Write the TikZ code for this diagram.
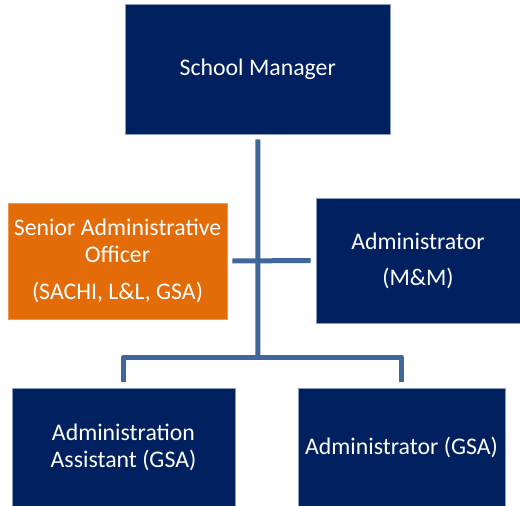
\documentclass[tikz,border=0pt]{standalone}
\usepackage{fontspec}
\setmainfont{Carlito}
\usepackage{tikz}
\usetikzlibrary{positioning}
\definecolor{navyfill}{HTML}{002060}
\definecolor{orgfill}{HTML}{E36C09}
\definecolor{linkblue}{HTML}{41679A}
\definecolor{edgegrey}{HTML}{8C9DBC}
\tikzset{
  postbox/.style={draw=edgegrey,line width=0.8pt,text=white,align=center,
    inner sep=0pt,font=\fontsize{23.8}{27}\selectfont},
  navybox/.style={postbox,fill=navyfill},
  orgbox/.style={postbox,fill=orgfill,draw=orgfill!70!white},
  link/.style={draw=linkblue,line width=5pt,line join=round}
}
\begin{document}
\begin{tikzpicture}[x=1pt,y=-1pt]
\useasboundingbox (0,0) rectangle (520,506);
\node[navybox,minimum width=264.5pt,minimum height=129.5pt] (manager) at (257.75,69.25) {School Manager};
\node[orgbox,minimum width=219pt,minimum height=116pt] (senior) at (117.5,261) {Senior Administrative\\Officer\\[10pt](SACHI, L\&L, GSA)};
\node[navybox,minimum width=204pt,minimum height=125pt] (adminmm) at (418,260.5) {Administrator\\[9pt](M\&M)};
\node[navybox,minimum width=223pt,minimum height=118pt] (assistant) at (123.5,447) {Administration\\Assistant (GSA)};
\node[navybox,minimum width=207pt,minimum height=118pt] (admingsa) at (401.5,447) {Administrator (GSA)};
% connectors
\coordinate (mid) at (258,357);
\draw[link] ([yshift=-5pt]manager.south) -- (mid);
\draw[link] ([xshift=5pt]senior.east) -- ([xshift=-5pt]adminmm.west);
\draw[link] ([yshift=6pt]assistant.north) -- (assistant.north |- mid) -- (admingsa.north |- mid) -- ([yshift=6pt]admingsa.north);
\end{tikzpicture}
\end{document}
